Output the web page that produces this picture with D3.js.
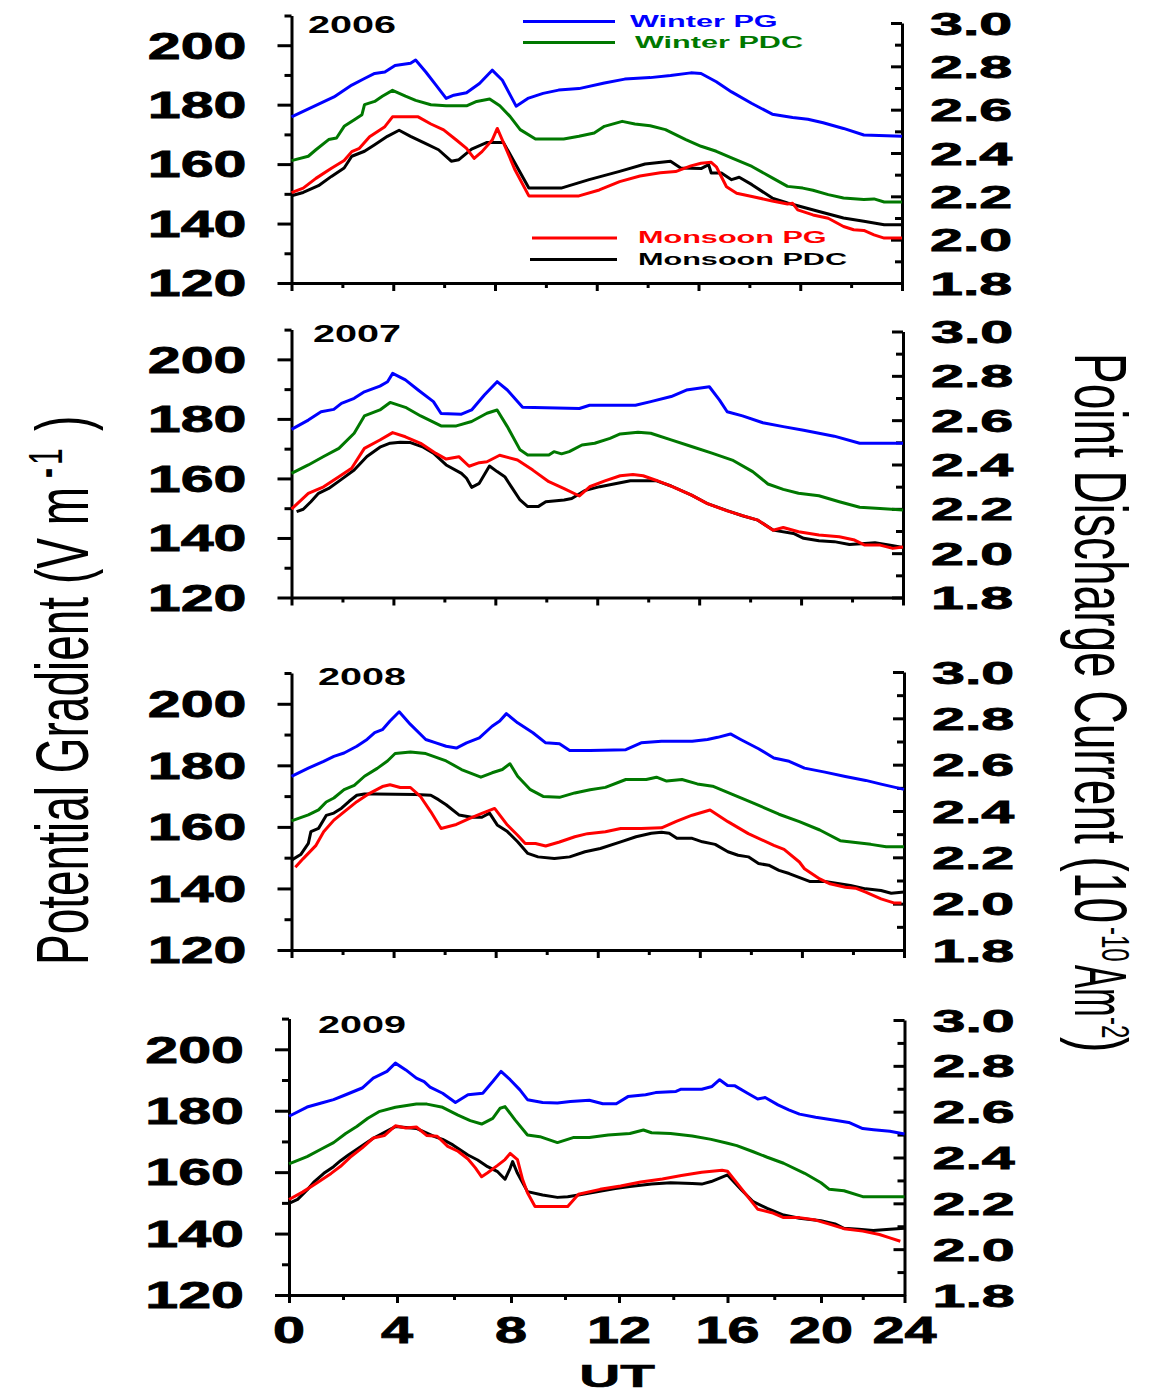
<!DOCTYPE html>
<html>
<head>
<meta charset="utf-8">
<script src="https://cdnjs.cloudflare.com/ajax/libs/d3/7.8.5/d3.min.js"></script>
<style>
  body { margin: 0; background: #fff; }
  svg { display: block; }
  .axis path, .axis line { stroke: #000; stroke-width: 3; }
</style>
</head>
<body>
<div id="chart"></div>
<script>
// ---- data: [UT hour, value]; PG in V/m (left axis), PDC in 1e-10 A/m2 (right axis)
var winterPG2006 = [[0,175.9],[1.67,182.6],[2.37,186.6],[2.87,188.8],[3.27,190.5],[3.67,191.0],[4.07,193.2],[4.68,193.9],[4.88,195.0],[5.28,191.0],[5.68,186.6],[6.08,182.1],[6.38,183.2],[6.88,184.0],[7.39,187.1],[7.89,191.6],[8.29,188.2],[8.83,179.5],[9.29,182.1],[9.89,183.8],[10.5,184.9],[11.3,185.4],[12.3,187.3],[13.1,188.6],[14.1,189.1],[14.9,189.8],[15.7,190.7],[16.1,190.5],[16.7,187.7],[17.3,184.3],[18.1,180.4],[18.9,176.8],[19.7,175.7],[20.3,175.1],[20.9,173.9],[21.7,172.0],[22.5,169.8],[24,169.4]];
var winterPDC2006 = [[0,2.365],[0.66,2.385],[0.96,2.415],[1.46,2.462],[1.77,2.469],[2.07,2.523],[2.47,2.554],[2.77,2.577],[2.87,2.623],[3.27,2.638],[3.57,2.662],[3.97,2.689],[4.48,2.662],[4.88,2.643],[5.48,2.623],[6.08,2.618],[6.88,2.618],[7.28,2.638],[7.79,2.649],[8.19,2.618],[8.59,2.569],[8.99,2.508],[9.59,2.465],[10.7,2.465],[11.3,2.477],[11.9,2.492],[12.3,2.523],[13.0,2.546],[13.5,2.534],[14.1,2.526],[14.7,2.508],[15.5,2.462],[16.1,2.431],[16.7,2.408],[17.3,2.377],[18.1,2.338],[18.9,2.285],[19.5,2.246],[20.1,2.238],[20.5,2.228],[21.1,2.208],[21.7,2.192],[22.5,2.185],[22.9,2.188],[23.3,2.174],[24,2.174]];
var monsoonPG2006 = [[0,150.4],[0.46,151.9],[0.96,155.2],[1.57,158.6],[2.07,161.2],[2.37,164.2],[2.67,165.3],[3.07,169.2],[3.37,170.9],[3.67,172.6],[3.97,175.9],[4.98,175.9],[5.48,173.5],[5.98,171.5],[6.48,168.1],[6.88,165.3],[7.18,161.9],[7.49,164.2],[7.89,168.1],[8.09,172.0],[8.29,168.1],[8.79,158.0],[9.33,149.3],[11.3,149.3],[12.1,151.3],[12.9,154.1],[13.7,156.0],[14.5,157.1],[15.1,157.5],[15.7,159.4],[16.1,160.3],[16.5,160.6],[16.7,159.1],[17.1,152.4],[17.5,150.2],[18.1,149.1],[18.9,147.6],[19.5,146.6],[19.7,146.8],[19.9,144.6],[20.5,142.9],[21.1,141.8],[21.7,139.0],[22.1,137.9],[22.5,137.7],[22.9,136.2],[23.3,135.1],[24,135.1]];
var monsoonPDC2006 = [[0,2.203],[0.46,2.218],[1.06,2.249],[1.57,2.292],[2.07,2.331],[2.37,2.385],[2.87,2.408],[3.27,2.438],[3.77,2.477],[4.23,2.505],[4.68,2.477],[5.28,2.443],[5.78,2.415],[6.28,2.362],[6.58,2.369],[7.08,2.418],[7.69,2.449],[8.33,2.449],[9.33,2.238],[10.6,2.238],[11.7,2.277],[12.9,2.315],[13.9,2.349],[14.9,2.362],[15.3,2.331],[16.1,2.328],[16.4,2.346],[16.5,2.308],[16.9,2.308],[17.3,2.277],[17.6,2.288],[18.1,2.254],[18.9,2.192],[19.5,2.169],[20.7,2.131],[21.7,2.100],[22.5,2.085],[23.3,2.069],[24,2.069]];

var winterPG2007 = [[0,176.5],[0.66,179.6],[1.16,182.4],[1.66,183.2],[1.96,185.2],[2.46,186.9],[2.86,189.1],[3.47,191.0],[3.77,192.5],[3.97,195.3],[4.47,193.1],[4.97,189.7],[5.57,185.8],[5.87,181.8],[6.67,181.6],[7.07,183.0],[7.57,188.0],[8.07,192.5],[8.47,189.7],[9.07,183.9],[11.3,183.5],[11.7,184.6],[13.5,184.6],[14.1,185.8],[14.9,187.5],[15.5,189.7],[16.4,190.8],[16.8,186.3],[17.1,182.4],[17.7,181.0],[18.5,178.7],[19.3,177.4],[20.1,176.2],[21.3,174.2],[22.3,171.8],[24,171.8]];
var winterPDC2007 = [[0,2.360],[0.66,2.398],[1.26,2.436],[1.86,2.473],[2.46,2.541],[2.86,2.619],[3.47,2.646],[3.87,2.680],[4.47,2.658],[5.07,2.619],[5.87,2.574],[6.47,2.574],[7.07,2.594],[7.67,2.631],[8.07,2.646],[8.47,2.571],[8.97,2.466],[9.27,2.443],[10.1,2.443],[10.3,2.458],[10.6,2.448],[10.9,2.458],[11.4,2.488],[11.9,2.496],[12.5,2.518],[12.9,2.538],[13.6,2.545],[14.1,2.541],[14.9,2.511],[15.7,2.481],[16.5,2.451],[17.3,2.420],[18.1,2.368],[18.7,2.312],[19.3,2.288],[19.9,2.270],[20.7,2.259],[21.5,2.232],[22.3,2.207],[23.1,2.202],[24,2.195]];
var monsoonPG2007 = [[0,149.7],[0.66,155.0],[1.26,157.2],[1.86,160.6],[2.36,163.4],[2.86,170.1],[3.47,172.9],[3.97,175.4],[4.47,174.0],[5.07,171.8],[5.67,168.4],[6.07,166.5],[6.57,167.3],[6.97,164.1],[7.37,165.3],[7.67,165.6],[8.17,167.8],[8.87,166.2],[9.47,162.8],[10.1,158.9],[10.7,156.6],[11.3,154.1],[11.7,157.2],[12.3,159.2],[12.9,160.9],[13.4,161.3],[13.8,160.9],[14.3,159.4],[14.9,157.4],[15.7,154.4],[16.3,151.6],[17.1,149.1],[17.7,147.5],[18.3,146.0],[18.9,142.6],[19.3,143.5],[19.9,142.1],[20.7,141.0],[21.5,140.4],[22.1,139.3],[22.5,137.6],[23.1,137.6],[23.6,136.5],[24,137.0]];
var monsoonPDC2007 = [[0.2,2.187],[0.46,2.198],[0.76,2.232],[1.06,2.270],[1.46,2.292],[1.96,2.333],[2.46,2.375],[2.96,2.436],[3.47,2.478],[3.87,2.496],[4.27,2.500],[4.67,2.499],[5.17,2.478],[5.57,2.451],[6.07,2.398],[6.67,2.360],[6.87,2.338],[7.07,2.297],[7.37,2.315],[7.77,2.393],[8.07,2.368],[8.37,2.345],[8.67,2.292],[8.97,2.240],[9.27,2.210],[9.68,2.210],[9.98,2.232],[10.7,2.240],[11.0,2.247],[11.5,2.282],[12.1,2.300],[12.9,2.318],[13.3,2.327],[14.3,2.327],[14.9,2.303],[15.7,2.262],[16.3,2.225],[17.1,2.192],[17.7,2.169],[18.3,2.149],[18.9,2.104],[19.7,2.089],[20.1,2.067],[20.7,2.056],[21.3,2.052],[21.9,2.039],[22.5,2.044],[22.9,2.047],[23.5,2.036],[24,2.026]];

var winterPG2008 = [[0,176.4],[0.66,179.1],[1.26,181.3],[1.66,182.9],[2.06,184.0],[2.56,186.2],[2.96,188.4],[3.26,190.6],[3.56,191.6],[3.86,194.4],[4.22,197.4],[4.66,193.3],[5.26,188.4],[5.66,187.3],[6.06,186.2],[6.46,185.6],[6.86,187.3],[7.36,188.9],[7.86,192.7],[8.16,194.4],[8.42,196.8],[8.86,193.8],[9.46,190.6],[9.96,187.3],[10.5,187.0],[10.9,184.8],[11.7,184.8],[13.1,185.1],[13.7,187.3],[14.5,187.8],[15.7,187.8],[16.3,188.4],[16.7,189.1],[17.2,190.2],[17.6,188.4],[18.3,185.4],[18.9,182.4],[19.5,181.3],[20.1,179.1],[20.9,177.8],[21.7,176.4],[22.5,175.1],[23.1,173.9],[24,172.2]];
var winterPDC2008 = [[0,2.357],[0.66,2.383],[1.06,2.405],[1.36,2.439],[1.66,2.456],[2.06,2.492],[2.46,2.511],[2.86,2.550],[3.36,2.584],[3.76,2.616],[4.06,2.648],[4.66,2.655],[5.26,2.648],[6.06,2.616],[6.66,2.579],[7.42,2.546],[7.86,2.565],[8.26,2.579],[8.56,2.604],[8.86,2.550],[9.36,2.492],[9.86,2.463],[10.5,2.459],[11.1,2.478],[11.7,2.492],[12.3,2.502],[13.1,2.536],[13.9,2.536],[14.3,2.546],[14.7,2.529],[15.3,2.536],[15.9,2.517],[16.5,2.507],[17.3,2.471],[18.1,2.434],[19.1,2.386],[19.9,2.354],[20.7,2.318],[21.5,2.272],[22.1,2.264],[22.7,2.256],[23.3,2.246],[24,2.246]];
var monsoonPG2008 = [[0.15,146.9],[0.46,149.7],[0.96,154.0],[1.26,158.4],[1.66,162.2],[2.06,164.9],[2.56,168.2],[3.06,170.9],[3.56,173.1],[3.86,173.7],[4.26,172.8],[4.66,172.8],[5.06,169.8],[5.46,164.9],[5.86,159.5],[6.46,160.8],[6.96,162.7],[7.46,164.4],[7.96,166.0],[8.46,160.6],[8.86,157.3],[9.16,154.6],[9.56,154.6],[9.96,153.8],[10.5,155.1],[11.1,156.8],[11.6,157.8],[12.3,158.4],[12.9,159.5],[13.7,159.5],[14.5,159.7],[15.1,161.9],[15.7,163.8],[16.4,165.5],[17.1,161.7],[17.9,157.8],[18.9,154.0],[19.3,152.7],[19.9,148.6],[20.1,146.4],[20.7,143.1],[21.1,141.5],[21.7,140.4],[22.1,140.1],[22.5,138.8],[23.1,136.6],[23.6,135.3],[23.9,135.3]];
var monsoonPDC2008 = [[0,2.188],[0.36,2.212],[0.66,2.260],[0.76,2.311],[1.06,2.325],[1.36,2.381],[1.66,2.391],[1.96,2.412],[2.26,2.442],[2.56,2.468],[2.86,2.473],[3.26,2.473],[4.86,2.471],[5.46,2.468],[5.76,2.449],[6.06,2.427],[6.56,2.383],[7.06,2.373],[7.46,2.373],[7.76,2.391],[8.06,2.340],[8.46,2.311],[8.86,2.267],[9.26,2.217],[9.66,2.202],[10.3,2.195],[10.9,2.202],[11.5,2.224],[12.1,2.238],[12.9,2.267],[13.5,2.289],[14.1,2.304],[14.5,2.308],[14.8,2.304],[15.1,2.282],[15.7,2.282],[16.1,2.267],[16.6,2.256],[17.1,2.224],[17.5,2.209],[17.9,2.202],[18.3,2.173],[18.7,2.166],[19.1,2.144],[19.5,2.130],[20.3,2.096],[20.9,2.096],[21.9,2.079],[22.5,2.064],[23.1,2.057],[23.5,2.045],[24,2.050]];

var winterPG2009 = [[0,178.2],[0.67,181.2],[1.2,182.5],[1.65,183.6],[2.1,185.2],[2.71,187.4],[3.12,190.6],[3.63,192.8],[3.94,195.5],[4.31,193.3],[4.68,190.6],[4.95,189.5],[5.16,187.7],[5.6,185.7],[6.05,182.7],[6.49,185.2],[7.01,185.7],[7.36,189.5],[7.65,192.8],[7.97,190.1],[8.33,186.8],[8.61,183.6],[9.17,182.7],[9.72,182.5],[10.2,183.0],[10.9,183.4],[11.4,182.3],[11.9,182.3],[12.33,184.6],[12.98,185.2],[13.35,185.9],[14.1,186.3],[14.29,187.0],[15.05,187.0],[15.43,187.9],[15.71,190.1],[16.0,188.2],[16.32,188.1],[16.86,185.7],[17.29,183.8],[17.61,184.3],[18.16,181.9],[18.62,180.3],[19.08,178.9],[19.77,177.9],[20.67,176.9],[21.33,176.2],[22.0,174.2],[22.52,173.8],[23.3,173.3],[24,172.4]];
var winterPDC2009 = [[0,2.372],[0.67,2.404],[1.2,2.437],[1.65,2.465],[2.1,2.505],[2.51,2.535],[2.92,2.571],[3.33,2.600],[3.94,2.619],[4.68,2.633],[5.05,2.633],[5.6,2.619],[6.14,2.585],[6.57,2.561],[6.97,2.546],[7.36,2.571],[7.62,2.615],[7.79,2.622],[8.15,2.564],[8.61,2.498],[9.07,2.491],[9.72,2.465],[10.3,2.487],[10.9,2.487],[11.6,2.498],[12.4,2.505],[12.9,2.520],[13.2,2.508],[13.9,2.505],[14.7,2.494],[15.4,2.479],[16.0,2.462],[16.4,2.452],[17.1,2.425],[17.7,2.401],[18.4,2.375],[19.3,2.331],[20.0,2.290],[20.4,2.261],[21.1,2.255],[22.0,2.229],[24,2.229]];
var monsoonPG2009 = [[0,151.1],[0.5,153.5],[1.03,156.5],[1.56,159.6],[1.91,161.9],[2.31,165.2],[2.71,167.9],[3.12,171.1],[3.53,171.9],[3.94,175.1],[4.31,174.4],[4.68,174.7],[5.05,171.9],[5.41,171.7],[5.78,168.4],[6.14,166.8],[6.49,164.3],[6.75,161.4],[6.97,158.5],[7.18,159.8],[7.53,162.2],[7.79,164.1],[7.97,166.1],[8.24,164.1],[8.43,157.6],[8.61,153.3],[8.89,148.8],[10.1,148.8],[10.5,152.8],[11.3,154.4],[12.06,155.5],[12.8,156.8],[13.6,157.8],[14.3,158.9],[15.05,160.0],[15.8,160.6],[16.0,160.3],[16.4,156.5],[16.9,151.7],[17.3,147.9],[17.9,146.8],[18.4,145.2],[19.08,145.2],[19.77,144.4],[20.44,143.0],[21.1,141.6],[22.0,140.8],[22.8,139.7],[23.3,138.6],[23.8,137.5]];
var monsoonPDC2009 = [[0,2.200],[0.32,2.217],[0.67,2.258],[0.94,2.295],[1.29,2.331],[1.65,2.360],[1.91,2.386],[2.2,2.411],[3.12,2.484],[3.94,2.535],[4.68,2.527],[5.32,2.491],[5.6,2.479],[5.96,2.455],[6.49,2.411],[6.83,2.389],[7.18,2.360],[7.53,2.338],[7.79,2.305],[7.97,2.353],[8.06,2.382],[8.24,2.331],[8.61,2.251],[9.17,2.236],[9.72,2.226],[10.1,2.229],[10.5,2.236],[11.86,2.265],[12.4,2.273],[13.2,2.284],[13.9,2.290],[14.7,2.287],[15.05,2.284],[15.4,2.295],[16.0,2.324],[16.6,2.258],[17.1,2.207],[17.7,2.178],[18.4,2.149],[19.08,2.135],[20.0,2.124],[20.67,2.110],[21.1,2.091],[21.8,2.087],[22.5,2.081],[23.3,2.087],[24,2.091]];

// ticks and names
var hourMajor = [0, 4, 8, 12, 16, 20, 24];
var hourMinor = [2, 6, 10, 14, 18, 22];
var pgMajor = [120, 140, 160, 180, 200];
var pgMinor = [130, 150, 170, 190, 210];
var pdcMajor = [1.8, 2.0, 2.2, 2.4, 2.6, 2.8, 3.0];
var pdcMinor = [1.9, 2.1, 2.3, 2.5, 2.7, 2.9];
var years = ['2006', '2007', '2008', '2009'];
var seriesNames = ['Winter PG', 'Winter PDC', 'Monsoon PG', 'Monsoon PDC'];
var seriesColors = ['#0000ff', '#007800', '#ff0000', '#000000'];

var panelSeries = [
    [winterPG2006, winterPDC2006, monsoonPG2006, monsoonPDC2006],
    [winterPG2007, winterPDC2007, monsoonPG2007, monsoonPDC2007],
    [winterPG2008, winterPDC2008, monsoonPG2008, monsoonPDC2008],
    [winterPG2009, winterPDC2009, monsoonPG2009, monsoonPDC2009]
];

// panel frames in pixels (the bottom panel's time axis is uneven in the original)
var frames = [
    {xr: [291.5, 902], yB: 283, yLT: 15.5, yRT: 23, yearX: 308, yearY: 33},
    {xr: [291.5, 903], yB: 597.5, yLT: 329.6, yRT: 331.5, yearX: 313, yearY: 342},
    {xr: [291.5, 904], yB: 950, yLT: 673, yRT: 672, yearX: 318, yearY: 685},
    {xr: [289, 397, 511, 619, 727.5, 821, 904.5], yB: 1295, yLT: 1018.6, yRT: 1020, yearX: 318, yearY: 1033}
];

var W = 1157, H = 1397;
var FONT = '"Liberation Sans", Arial, Helvetica, sans-serif';

var svg = d3.select('#chart').append('svg')
    .attr('width', W)
    .attr('height', H);
svg.append('rect').attr('width', W).attr('height', H).attr('fill', '#fff');

// text stretched sideways like the original artwork
function stretched(parent, str, x, y, o) {
    var t = parent.append('text')
        .attr('transform', 'translate(' + x + ',' + y + ') scale(' + o.sx + ',1)' + (o.rot ? ' rotate(' + o.rot + ')' : ''))
        .attr('text-anchor', o.anchor || 'start')
        .attr('dy', o.dy || 0)
        .attr('fill', o.color || '#000')
        .style('font-family', FONT)
        .style('font-size', o.size + 'px')
        .style('font-weight', o.weight || 'bold');
    if (str !== null) t.text(str);
    if (o.stroke) t.attr('stroke', o.color || '#000').attr('stroke-width', o.stroke);
    return t;
}

frames.forEach(function (f, p) {
    var x = d3.scaleLinear()
        .domain(f.xr.length > 2 ? hourMajor : [0, 24])
        .range(f.xr);
    var yPG = d3.scaleLinear().domain([120, 210]).range([f.yB, f.yLT]);
    var yPDC = d3.scaleLinear().domain([1.8, 3.0]).range([f.yB, f.yRT]);
    var x0 = f.xr[0], x1 = f.xr[f.xr.length - 1];

    var g = svg.append('g').classed('panel', true);

    // left axis
    g.append('g').attr('class', 'axis').attr('transform', 'translate(' + x0 + ',0)')
        .call(d3.axisLeft(yPG).tickValues(pgMajor).tickSize(14).tickSizeOuter(0).tickFormat(''));
    g.append('g').attr('class', 'axis').attr('transform', 'translate(' + x0 + ',0)')
        .call(d3.axisLeft(yPG).tickValues(pgMinor).tickSize(7).tickSizeOuter(0).tickFormat(''))
        .call(function (a) { a.select('.domain').remove(); });

    // right axis, ticks point inward
    g.append('g').attr('class', 'axis').attr('transform', 'translate(' + x1 + ',0)')
        .call(d3.axisRight(yPDC).tickValues(pdcMajor).tickSize(-11).tickSizeOuter(0).tickFormat(''));
    g.append('g').attr('class', 'axis').attr('transform', 'translate(' + x1 + ',0)')
        .call(d3.axisRight(yPDC).tickValues(pdcMinor).tickSize(-7).tickSizeOuter(0).tickFormat(''))
        .call(function (a) { a.select('.domain').remove(); });

    // bottom axis
    g.append('g').attr('class', 'axis').attr('transform', 'translate(0,' + f.yB + ')')
        .call(d3.axisBottom(x).tickValues(hourMajor).tickSize(8).tickSizeOuter(0).tickFormat(''));
    g.append('g').attr('class', 'axis').attr('transform', 'translate(0,' + f.yB + ')')
        .call(d3.axisBottom(x).tickValues(hourMinor).tickSize(5).tickSizeOuter(0).tickFormat(''))
        .call(function (a) { a.select('.domain').remove(); });

    // tick labels
    pgMajor.forEach(function (v) {
        stretched(g, v, x0 - 45, yPG(v), {sx: 1.6, size: 37, anchor: 'end', dy: '0.36em', stroke: 0.8});
    });
    pdcMajor.forEach(function (v) {
        stretched(g, d3.format('.1f')(v), x1 + 28, yPDC(v), {sx: 1.85, size: 32, anchor: 'start', dy: '0.36em', stroke: 0.8});
    });

    // year tag
    stretched(g, years[p], f.yearX, f.yearY, {sx: 1.72, size: 23});

    // lines: blue, green, black, red on top
    var order = [0, 1, 3, 2];
    order.forEach(function (s) {
        var yS = (s % 2 === 0) ? yPG : yPDC;
        var line = d3.line()
            .x(function (d) { return x(d[0]); })
            .y(function (d) { return yS(d[1]); });
        g.append('path')
            .datum(panelSeries[p][s])
            .attr('d', line)
            .attr('fill', 'none')
            .attr('stroke', seriesColors[s])
            .attr('stroke-width', 3)
            .attr('stroke-linejoin', 'round');
    });

    // hour labels only under the last panel
    if (p === frames.length - 1) {
        hourMajor.forEach(function (h) {
            stretched(g, h, x(h), 1343, {sx: 1.6, size: 36, anchor: 'middle', stroke: 0.8});
        });
        stretched(g, 'UT', 617, 1387, {sx: 1.83, size: 31, anchor: 'middle', stroke: 0.6});
    }
});

// legend, in the first panel
var legend = [
    {x1: 523, x2: 615, y: 21.5, tx: 630, ty: 27},
    {x1: 523, x2: 615, y: 42.5, tx: 635, ty: 48},
    {x1: 532, x2: 617, y: 238, tx: 638, ty: 243},
    {x1: 530, x2: 617, y: 259.5, tx: 638, ty: 265}
];
legend.forEach(function (l, i) {
    svg.append('line')
        .attr('x1', l.x1).attr('x2', l.x2)
        .attr('y1', l.y).attr('y2', l.y)
        .attr('stroke', seriesColors[i])
        .attr('stroke-width', 3);
    stretched(svg, seriesNames[i], l.tx, l.ty, {sx: 1.8, size: 17, color: seriesColors[i]});
});

// axis titles
var left = stretched(svg, null, 88, 965, {sx: 1.6, size: 46, rot: -90, weight: 'normal'});
left.append('tspan').text('Potential Gradient (V m');
left.append('tspan').attr('x', 487).attr('dy', -16).style('font-size', '30px').style('font-weight', 'bold').text('-');
left.append('tspan').attr('x', 500).style('font-size', '30px').text('1');
left.append('tspan').attr('x', 534).attr('dy', 16).text(')');

var right = stretched(svg, null, 1075, 353, {sx: 1.6, size: 46, rot: 90, weight: 'normal'});
right.append('tspan').text('Point Discharge Current (10');
right.append('tspan').attr('x', 574).attr('dy', -17).style('font-size', '24px').text('-10');
right.append('tspan').attr('x', 612).attr('dy', 17).attr('textLength', 52).attr('lengthAdjust', 'spacingAndGlyphs').text('Am');
right.append('tspan').attr('x', 664).attr('dy', -17).style('font-size', '24px').text('-2');
right.append('tspan').attr('x', 684).attr('dy', 17).text(')');
</script>
</body>
</html>
